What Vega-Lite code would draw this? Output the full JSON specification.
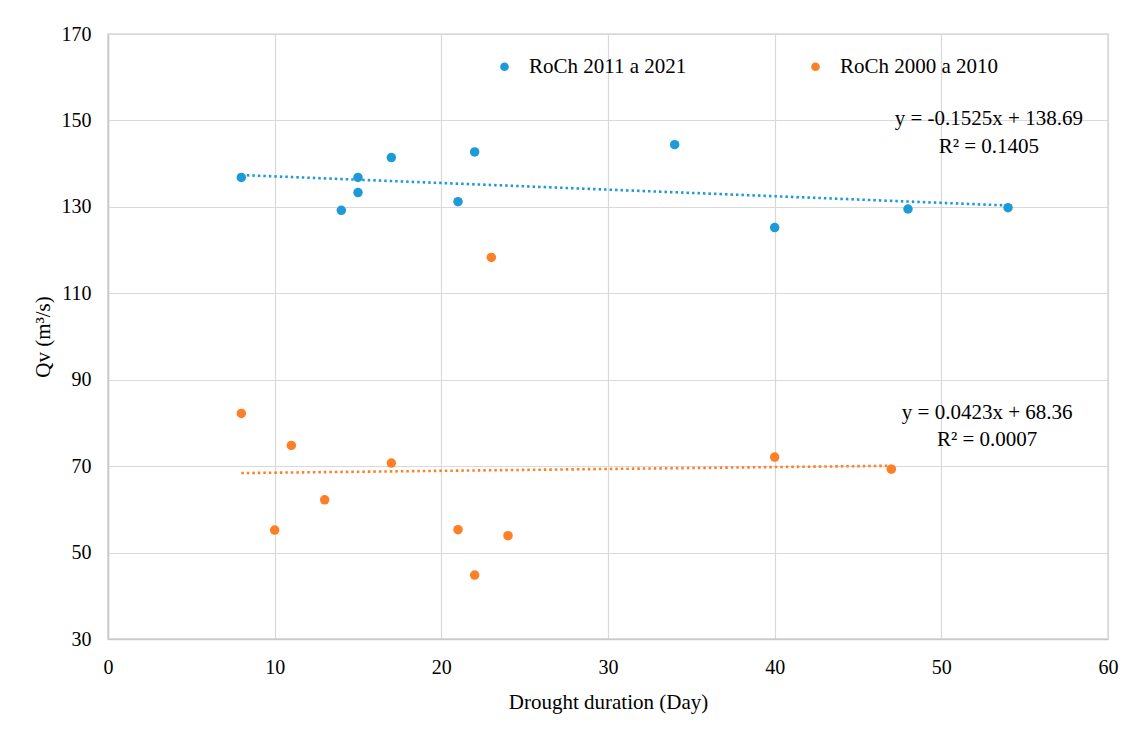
{
  "$schema": "https://vega.github.io/schema/vega-lite/v6.json",
  "width": 1000,
  "height": 605,
  "autosize": {"type": "none"},
  "padding": {"left": 108, "top": 34, "right": 20, "bottom": 92},
  "background": "white",
  "config": {
    "font": "Liberation Serif",
    "view": {"stroke": "#d9d9d9", "strokeWidth": 1.5},
    "axis": {
      "labelFont": "Liberation Serif",
      "titleFont": "Liberation Serif",
      "labelFontSize": 20,
      "titleFontSize": 21,
      "labelColor": "#000000",
      "titleColor": "#000000",
      "titleFontWeight": "normal",
      "gridColor": "#d9d9d9",
      "gridWidth": 1.2,
      "domainColor": "#c8c8c8",
      "domainWidth": 1.5,
      "ticks": false,
      "labelFlush": false
    }
  },
  "datasets": {
    "points": [
      {"series": "RoCh 2011 a 2021", "duration": 8, "Qv": 136.8},
      {"series": "RoCh 2011 a 2021", "duration": 14, "Qv": 129.2},
      {"series": "RoCh 2011 a 2021", "duration": 15, "Qv": 136.8},
      {"series": "RoCh 2011 a 2021", "duration": 15, "Qv": 133.3},
      {"series": "RoCh 2011 a 2021", "duration": 17, "Qv": 141.4},
      {"series": "RoCh 2011 a 2021", "duration": 21, "Qv": 131.2},
      {"series": "RoCh 2011 a 2021", "duration": 22, "Qv": 142.7},
      {"series": "RoCh 2011 a 2021", "duration": 34, "Qv": 144.4},
      {"series": "RoCh 2011 a 2021", "duration": 40, "Qv": 125.2},
      {"series": "RoCh 2011 a 2021", "duration": 48, "Qv": 129.5},
      {"series": "RoCh 2011 a 2021", "duration": 54, "Qv": 129.8},
      {"series": "RoCh 2000 a 2010", "duration": 8, "Qv": 82.2},
      {"series": "RoCh 2000 a 2010", "duration": 10, "Qv": 55.2},
      {"series": "RoCh 2000 a 2010", "duration": 11, "Qv": 74.8},
      {"series": "RoCh 2000 a 2010", "duration": 13, "Qv": 62.2},
      {"series": "RoCh 2000 a 2010", "duration": 17, "Qv": 70.7},
      {"series": "RoCh 2000 a 2010", "duration": 21, "Qv": 55.3},
      {"series": "RoCh 2000 a 2010", "duration": 22, "Qv": 44.8},
      {"series": "RoCh 2000 a 2010", "duration": 23, "Qv": 118.3},
      {"series": "RoCh 2000 a 2010", "duration": 24, "Qv": 53.9},
      {"series": "RoCh 2000 a 2010", "duration": 40, "Qv": 72.1},
      {"series": "RoCh 2000 a 2010", "duration": 47, "Qv": 69.3}
    ],
    "equations": [
      {"series": "RoCh 2011 a 2021", "eq": "y = -0.1525x + 138.69", "r2": "R² = 0.1405"},
      {"series": "RoCh 2000 a 2010", "eq": "y = 0.0423x + 68.36", "r2": "R² = 0.0007"}
    ]
  },
  "layer": [
    {
      "data": {"name": "points"},
      "transform": [
        {"regression": "Qv", "on": "duration", "groupby": ["series"]}
      ],
      "mark": {"type": "line", "strokeDash": [2.5, 3], "strokeWidth": 2.6},
      "encoding": {
        "x": {
          "field": "duration",
          "type": "quantitative",
          "scale": {"domain": [0, 60], "nice": false, "zero": false},
          "axis": {
            "title": "Drought  duration  (Day)",
            "values": [0, 10, 20, 30, 40, 50, 60],
            "labelPadding": 18,
            "titlePadding": 14
          }
        },
        "y": {
          "field": "Qv",
          "type": "quantitative",
          "scale": {"domain": [30, 170], "nice": false, "zero": false},
          "axis": {
            "title": "Qv (m³/s)",
            "values": [30, 50, 70, 90, 110, 130, 150, 170],
            "labelPadding": 17,
            "titlePadding": 8
          }
        },
        "color": {
          "field": "series",
          "type": "nominal",
          "scale": {
            "domain": ["RoCh 2011 a 2021", "RoCh 2000 a 2010"],
            "range": ["#1f9ad8", "#fd7f27"]
          },
          "legend": {
            "title": null,
            "orient": "none",
            "direction": "horizontal",
            "columns": 2,
            "legendX": 386,
            "legendY": 22,
            "symbolType": "circle",
            "symbolSize": 75,
            "symbolStrokeWidth": 0,
            "symbolDash": [],
            "labelFont": "Liberation Serif",
            "labelFontSize": 21,
            "labelColor": "#000000",
            "labelOffset": 14,
            "columnPadding": 118,
            "labelLimit": 300
          }
        }
      }
    },
    {
      "data": {"name": "points"},
      "mark": {"type": "circle", "size": 90, "opacity": 1},
      "encoding": {
        "x": {"field": "duration", "type": "quantitative"},
        "y": {"field": "Qv", "type": "quantitative"},
        "color": {"field": "series", "type": "nominal"}
      }
    },
    {
      "data": {"name": "equations"},
      "transform": [{"filter": "datum.series == 'RoCh 2011 a 2021'"}],
      "mark": {
        "type": "text",
        "font": "Liberation Serif",
        "fontSize": 21,
        "align": "center",
        "baseline": "alphabetic",
        "lineHeight": 28,
        "fill": "#000000"
      },
      "encoding": {
        "x": {"datum": 52.85},
        "y": {"datum": 148.9},
        "text": {"value": ["y = -0.1525x + 138.69", "R² = 0.1405"]}
      }
    },
    {
      "data": {"name": "equations"},
      "transform": [{"filter": "datum.series == 'RoCh 2000 a 2010'"}],
      "mark": {
        "type": "text",
        "font": "Liberation Serif",
        "fontSize": 21,
        "align": "center",
        "baseline": "alphabetic",
        "lineHeight": 27,
        "fill": "#000000"
      },
      "encoding": {
        "x": {"datum": 52.75},
        "y": {"datum": 80.8},
        "text": {"value": ["y = 0.0423x + 68.36", "R² = 0.0007"]}
      }
    }
  ]
}
